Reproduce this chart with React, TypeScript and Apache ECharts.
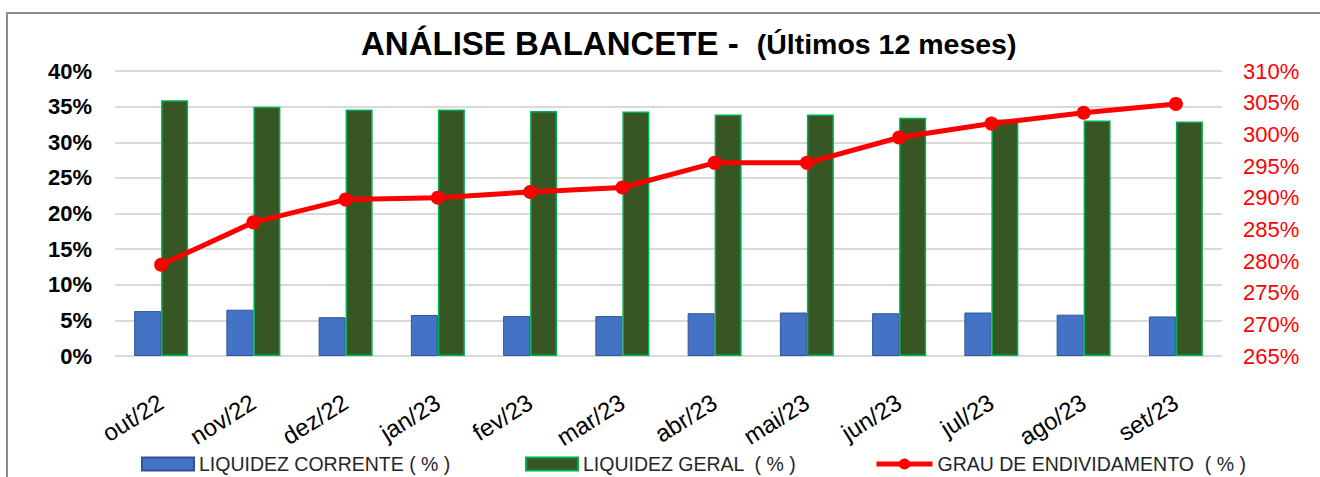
import React, { useEffect, useRef } from "react";
import * as echarts from "echarts";

const categories = ["out/22", "nov/22", "dez/22", "jan/23", "fev/23", "mar/23", "abr/23", "mai/23", "jun/23", "jul/23", "ago/23", "set/23"];
const liquidezCorrente = [6.3, 6.5, 5.45, 5.75, 5.6, 5.6, 6.0, 6.1, 6.0, 6.1, 5.8, 5.55];
const liquidezGeral = [35.9, 35.0, 34.6, 34.6, 34.4, 34.3, 33.9, 33.9, 33.45, 33.2, 33.05, 32.9];
const grauEndividamento = [279.4, 286.1, 289.7, 290.0, 290.9, 291.6, 295.5, 295.5, 299.5, 301.7, 303.4, 304.8];

const NAME_LC = "LIQUIDEZ CORRENTE ( % )";
const NAME_LG = "LIQUIDEZ GERAL  ( % )";
const NAME_GE = "GRAU DE ENDIVIDAMENTO  ( % )";

const FONT = "'Liberation Sans', Arial, sans-serif";

export default function App() {
  const ref = useRef<HTMLDivElement>(null);
  useEffect(() => {
    document.body.style.margin = "0";
    const chart = echarts.init(ref.current!, null, { renderer: "svg" });
    const legendText = { fontFamily: FONT, fontSize: 19.5, color: "#262626" };
    chart.setOption({
      animation: false,
      backgroundColor: "#ffffff",
      textStyle: { fontFamily: FONT },
      title: {
        left: 356,
        top: 22,
        text: "{a|ANÁLISE BALANCETE -}{s| }{b|(Últimos 12 meses)}",
        textStyle: {
          rich: {
            a: { fontFamily: FONT, fontSize: 33, fontWeight: "bold", color: "#000" },
            s: { width: 18, fontSize: 20 },
            b: { fontFamily: FONT, fontSize: 28.5, fontWeight: "bold", color: "#000" },
          },
        },
      },
      graphic: [
        {
          type: "rect",
          shape: { x: 7, y: 13, width: 1340, height: 520 },
          style: { fill: "none", stroke: "#8c8c8c", lineWidth: 2 },
          silent: true,
        },
      ],
      legend: [
        {
          data: [NAME_LC],
          left: 136,
          top: 449,
          icon: "rect",
          itemWidth: 52,
          itemHeight: 13,
          itemGap: 5,
          textStyle: legendText,
        },
        {
          data: [NAME_LG],
          left: 520,
          top: 449,
          icon: "rect",
          itemWidth: 52,
          itemHeight: 13,
          textStyle: legendText,
        },
        {
          data: [NAME_GE],
          left: 869,
          top: 449,
          itemWidth: 56,
          itemHeight: 14,
          lineStyle: { width: 5, color: "#ff0000" },
          textStyle: legendText,
        },
      ],
      grid: { left: 115, right: 98, top: 71, bottom: 121 },
      xAxis: {
        type: "category",
        data: categories,
        axisLine: { show: false },
        axisTick: { show: false },
        axisLabel: {
          rotate: 32,
          margin: 44,
          interval: 0,
          fontFamily: FONT,
          fontSize: 24,
          color: "#000",
        },
      },
      yAxis: [
        {
          type: "value",
          min: 0,
          max: 40,
          interval: 5,
          axisLine: { show: false },
          axisTick: { show: false },
          splitLine: { lineStyle: { color: "#d9d9d9", width: 2 } },
          axisLabel: {
            formatter: "{value}%",
            margin: 23,
            fontFamily: FONT,
            fontSize: 22,
            fontWeight: "bold",
            color: "#000",
          },
        },
        {
          type: "value",
          min: 265,
          max: 310,
          interval: 5,
          position: "right",
          axisLine: { show: false },
          axisTick: { show: false },
          splitLine: { show: false },
          axisLabel: {
            formatter: "{value}%",
            margin: 21,
            fontFamily: FONT,
            fontSize: 22,
            color: "#ff0000",
          },
        },
      ],
      series: [
        {
          name: NAME_LC,
          type: "bar",
          data: liquidezCorrente,
          barWidth: 27,
          barGap: "0%",
          itemStyle: { color: "#4472c4", borderColor: "#2f5597", borderWidth: 1 },
        },
        {
          name: NAME_LG,
          type: "bar",
          data: liquidezGeral,
          barWidth: 27,
          barGap: "0%",
          itemStyle: { color: "#375623", borderColor: "#00b050", borderWidth: 1.5 },
        },
        {
          name: NAME_GE,
          type: "line",
          yAxisIndex: 1,
          data: grauEndividamento,
          symbol: "circle",
          symbolSize: 14,
          lineStyle: { color: "#ff0000", width: 5 },
          itemStyle: { color: "#ff0000" },
          z: 5,
        },
      ],
    });
    return () => chart.dispose();
  }, []);
  return <div ref={ref} style={{ width: 1320, height: 477 }} />;
}
